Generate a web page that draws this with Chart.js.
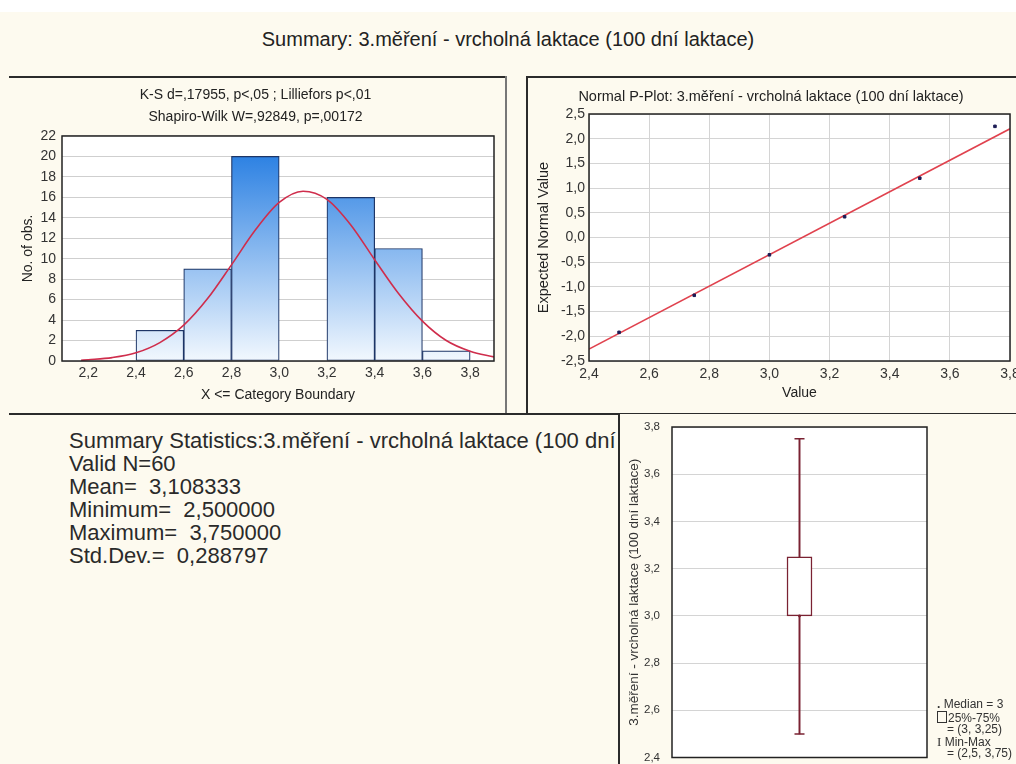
<!DOCTYPE html>
<html lang="cs">
<head>
<meta charset="UTF-8">
<title>Summary: 3.měření - vrcholná laktace</title>
<script src="https://cdn.jsdelivr.net/npm/chart.js"></script>
<style>
  body { margin: 0; width: 1016px; height: 764px; overflow: hidden; background: #fff; position: relative;
         font-family: "Liberation Sans", Arial, sans-serif; color: #222; }
  .sheet { position: absolute; left: 0; top: 12px; width: 1016px; height: 752px; background: #fdfaef; }
  .line { position: absolute; background: #2b2b2b; }
  .box { position: absolute; }
  #mainTitle { position: absolute; left: 0; width: 1016px; top: 28px; text-align: center; font-size: 20px; }
  #stats { position: absolute; left: 69px; top: 429px; font-size: 22px; line-height: 23px; white-space: nowrap; color: #2a2a2a; }
  #boxPanel { position: absolute; left: 618px; top: 414px; width: 398px; height: 350px; background: #fdfaef;
              border-left: 2px solid #2b2b2b; box-sizing: border-box; }
  #boxLegend { position: absolute; left: 937px; top: 699px; font-size: 12px; line-height: 11.5px; color: #333; white-space: nowrap; }
  .sq { display: inline-block; width: 8px; height: 10px; border: 1px solid #333; vertical-align: -1px; margin-right: 1px; }
</style>
</head>
<body>
<div class="sheet"></div>
<div id="mainTitle">Summary: 3.měření - vrcholná laktace (100 dní laktace)</div>

<div id="stats"></div>

<div class="line" style="left:9px;top:76px;width:497px;height:2px"></div>
<div class="line" style="left:526px;top:76px;width:490px;height:2px"></div>
<div class="line" style="left:505px;top:76px;width:2px;height:338px;background:#777"></div>
<div class="line" style="left:526px;top:76px;width:2px;height:338px"></div>
<div class="line" style="left:9px;top:413px;width:1007px;height:2px"></div>

<div class="box" style="left:8px;top:80px;width:496px;height:332px"><canvas id="hist"></canvas></div>
<div class="box" style="left:528px;top:80px;width:488px;height:332px"><canvas id="pplot"></canvas></div>
<div id="boxPanel"></div>
<div class="box" style="left:620px;top:416px;width:396px;height:348px"><canvas id="boxplot"></canvas></div>
<div id="boxLegend"></div>

<script>
// histogram: bins of width 0.2, centres and counts
const binCenters = [2.3, 2.5, 2.7, 2.9, 3.1, 3.3, 3.5, 3.7];
const binCounts = [0, 3, 9, 20, 0, 16, 11, 1];
// fitted normal curve (expected counts)
const curveX = [2.17, 2.2, 2.3, 2.4, 2.5, 2.6, 2.7, 2.8, 2.9, 3.0, 3.1, 3.2, 3.3, 3.4, 3.5, 3.6, 3.7, 3.8, 3.9];
const curveY = [0.07, 0.12, 0.33, 0.8, 1.8, 3.5, 6.1, 9.4, 12.8, 15.5, 16.6, 15.8, 13.3, 9.9, 6.6, 3.9, 2.0, 0.95, 0.4];
const histTitle = ['K-S d=,17955, p<,05 ; Lilliefors p<,01', 'Shapiro-Wilk W=,92849, p=,00172'];

// normal probability plot
const ppValues = [2.5, 2.75, 3.0, 3.25, 3.5, 3.75];
const ppExpected = [-1.92, -1.17, -0.35, 0.42, 1.2, 2.25];
const ppLineX = [2.4, 3.8];
const ppLineY = [-2.26, 2.2];

// box plot
const varName = '3.měření - vrcholná laktace (100 dní laktace)';
const boxMin = 2.5, boxQ1 = 3.0, boxMedian = 3.0, boxQ3 = 3.25, boxMax = 3.75;

// summary statistics
const statLines = [
  'Summary Statistics:' + varName,
  'Valid N=60',
  'Mean= 3,108333',
  'Minimum= 2,500000',
  'Maximum= 3,750000',
  'Std.Dev.= 0,288797'
];

document.getElementById('stats').innerHTML = statLines.map(s => s.replace(/= /, '=&nbsp; ')).join('<br>');
document.getElementById('boxLegend').innerHTML =
  '<span style="font-weight:bold">.</span> Median = 3<br>' +
  '<span class="sq"></span>25%-75%<br>' +
  '&nbsp;&nbsp;&nbsp;= (3, 3,25)<br>' +
  '<span style="font-family:serif;font-size:13px">I</span> Min-Max<br>' +
  '&nbsp;&nbsp;&nbsp;= (2,5, 3,75)';

Chart.defaults.font.family = '"Liberation Sans", Arial, sans-serif';
Chart.defaults.color = '#333';
Chart.defaults.animation = false;
Chart.defaults.plugins.legend.display = false;
Chart.defaults.plugins.tooltip.enabled = false;
Chart.defaults.maintainAspectRatio = false;

const comma = (v, d) => Number(v).toFixed(d).replace('.', ',');

// white plot area with a dark frame around it
const framePlugin = {
  id: 'frame',
  beforeDraw(chart) {
    const a = chart.chartArea, c = chart.ctx;
    c.save(); c.fillStyle = '#fff'; c.fillRect(a.left, a.top, a.width, a.height); c.restore();
  },
  afterDraw(chart) {
    const a = chart.chartArea, c = chart.ctx;
    c.save(); c.strokeStyle = '#222'; c.lineWidth = 1.5;
    c.strokeRect(a.left, a.top, a.width, a.height); c.restore();
  }
};

const fixSize = (w, h) => scale => {
  if (w != null) scale.width = w;
  if (h != null) scale.height = h;
  scale.paddingLeft = 0; scale.paddingRight = 0;
  scale.paddingTop = 0; scale.paddingBottom = 0;
};

function barGradient(ctx) {
  const area = ctx.chart.chartArea;
  if (!area) return '#7fb6ef';
  const g = ctx.chart.ctx.createLinearGradient(0, area.top, 0, area.bottom);
  g.addColorStop(0, '#1a76e0');
  g.addColorStop(1, '#f2f8fe');
  return g;
}

new Chart(document.getElementById('hist'), {
  type: 'bar',
  data: {
    datasets: [
      {
        type: 'line',
        data: curveX.map((x, i) => ({ x, y: curveY[i] })),
        borderColor: '#cf2d4c', borderWidth: 1.6, pointRadius: 0,
        cubicInterpolationMode: 'monotone', order: 0
      },
      {
        data: binCenters.map((x, i) => ({ x, y: binCounts[i] })),
        backgroundColor: barGradient, borderColor: '#1d3566', borderWidth: 1.2,
        borderSkipped: false, barPercentage: 1, categoryPercentage: 1, order: 1
      }
    ]
  },
  options: {
    layout: { padding: { left: 9, right: 10, top: 0, bottom: 4 } },
    plugins: {
      title: { display: true, text: histTitle, font: { size: 14, weight: 'normal', lineHeight: 1.5714 },
               color: '#222', padding: { top: 4.5, bottom: 7.5 } }
    },
    scales: {
      x: {
        type: 'linear', min: 2.09, max: 3.9, offset: false,
        ticks: { stepSize: 0.2, includeBounds: false, padding: 4, font: { size: 14 }, callback: v => comma(v, 1) },
        grid: { display: false, drawTicks: false },
        border: { display: false },
        title: { display: true, text: 'X <= Category Boundary', font: { size: 14 }, color: '#222' },
        afterFit: fixSize(null, 47)
      },
      y: {
        min: 0, max: 22,
        ticks: { stepSize: 2, padding: 6, font: { size: 14 } },
        grid: { color: '#cfcfcf', drawTicks: false },
        border: { display: false },
        title: { display: true, text: 'No. of obs.', font: { size: 14 }, color: '#222', padding: { top: 3, bottom: 4 } },
        afterFit: fixSize(45, null)
      }
    }
  },
  plugins: [framePlugin]
});

new Chart(document.getElementById('pplot'), {
  type: 'scatter',
  data: {
    datasets: [
      {
        type: 'line',
        data: ppLineX.map((x, i) => ({ x, y: ppLineY[i] })),
        borderColor: '#e0424e', borderWidth: 1.6, pointRadius: 0, order: 1
      },
      {
        data: ppValues.map((x, i) => ({ x, y: ppExpected[i] })),
        pointStyle: 'rect', pointRadius: 1.8, backgroundColor: '#1b1b55', borderColor: '#1b1b55', order: 0
      }
    ]
  },
  options: {
    layout: { padding: { left: 4, right: 6, top: 0, bottom: 6 } },
    plugins: {
      title: { display: true, text: 'Normal P-Plot: ' + varName, font: { size: 14.5, weight: 'normal', lineHeight: 1.2 },
               color: '#222', padding: { top: 8.3, bottom: 8.3 } }
    },
    scales: {
      x: {
        type: 'linear', min: 2.4, max: 3.8,
        ticks: { stepSize: 0.2, padding: 5, font: { size: 14 }, callback: v => comma(v, 1) },
        grid: { color: '#d4d4d4', drawTicks: false },
        border: { display: false },
        title: { display: true, text: 'Value', font: { size: 14 }, color: '#222' },
        afterFit: fixSize(null, 45)
      },
      y: {
        min: -2.5, max: 2.5,
        ticks: { stepSize: 0.5, padding: 4, font: { size: 14 }, callback: v => comma(v, 1) },
        grid: { color: '#d4d4d4', drawTicks: false },
        border: { display: false },
        title: { display: true, text: 'Expected Normal Value', font: { size: 14.5 }, color: '#222', padding: { top: 3, bottom: 4 } },
        afterFit: fixSize(57, null)
      }
    }
  },
  plugins: [framePlugin]
});

const boxColor = '#7a2232';
new Chart(document.getElementById('boxplot'), {
  type: 'bar',
  data: {
    labels: [varName],
    datasets: [
      {
        type: 'line', showLine: false,
        data: [{ x: varName, y: boxMin }, { x: varName, y: boxMax }],
        pointStyle: 'line', pointRadius: 5, pointBorderWidth: 1.5, borderColor: boxColor, order: 0
      },
      {
        data: [[boxQ1, boxQ3]], grouped: false, barThickness: 25,
        backgroundColor: '#fff', borderColor: boxColor, borderWidth: 1.5, borderSkipped: false, order: 1
      },
      {
        data: [[boxMin, boxMax]], grouped: false, barThickness: 1.3,
        backgroundColor: boxColor, borderWidth: 0, order: 2
      },
      {
        type: 'line', showLine: false,
        data: [{ x: varName, y: boxMedian }],
        pointStyle: 'rect', pointRadius: 1.2, backgroundColor: boxColor, borderColor: boxColor, order: -1
      }
    ]
  },
  options: {
    layout: { padding: { left: 3, right: 89, top: 11, bottom: 4 } },
    scales: {
      x: { display: false },
      y: {
        min: 2.4, max: 3.8,
        ticks: { stepSize: 0.2, padding: 12, font: { size: 11.5 }, callback: v => comma(v, 1) },
        grid: { color: '#d4d4d4', drawTicks: false },
        border: { display: false },
        title: { display: true, text: varName, font: { size: 13.5 }, color: '#333', padding: { top: 3, bottom: 4 } },
        afterFit: fixSize(49, null)
      }
    }
  },
  plugins: [framePlugin]
});
</script>
</body>
</html>
